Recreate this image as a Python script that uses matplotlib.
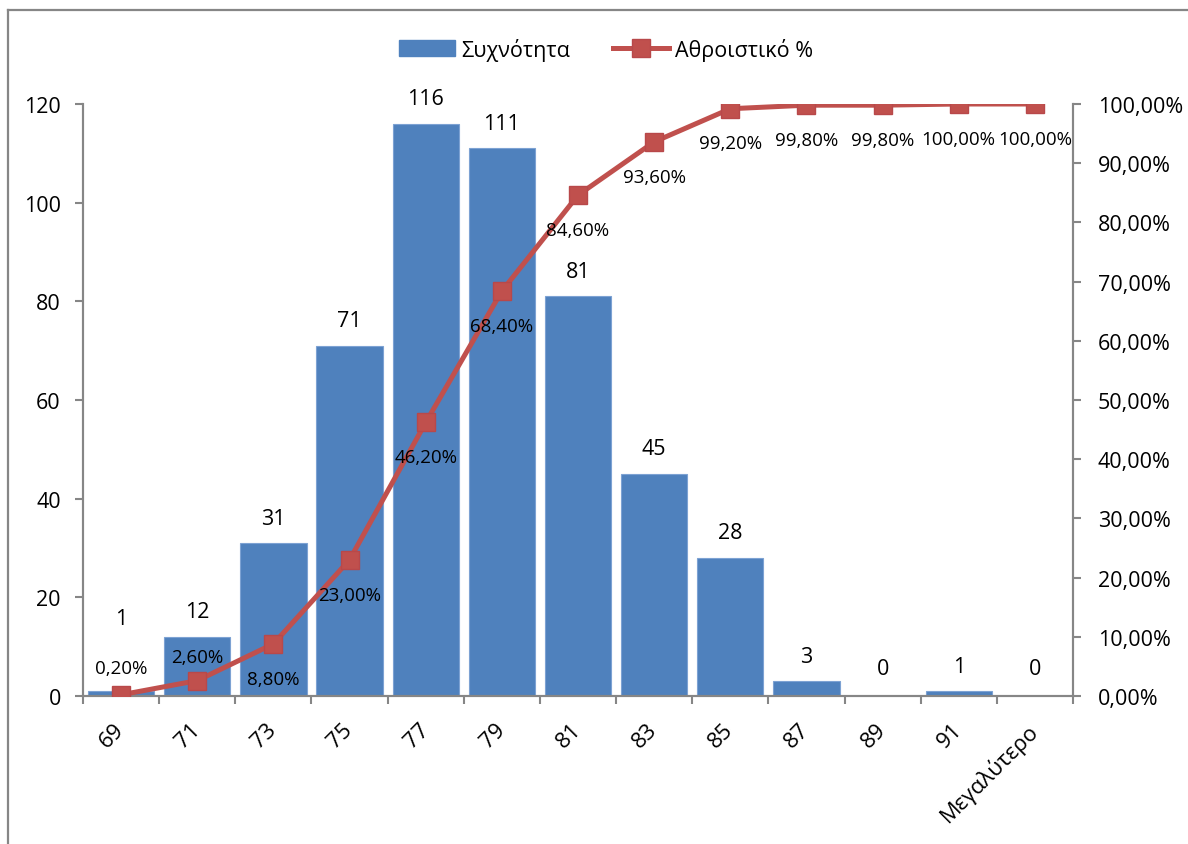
import matplotlib
matplotlib.use("Agg")
import matplotlib.pyplot as plt
from matplotlib.lines import Line2D
from matplotlib.patches import Patch
from matplotlib.ticker import FuncFormatter, FixedLocator

plt.rcParams['font.family'] = ['Open Sans', 'DejaVu Sans']

# Histogram data
categories = ["69", "71", "73", "75", "77", "79", "81", "83", "85", "87", "89", "91", "Μεγαλύτερο"]
frequency = [1, 12, 31, 71, 116, 111, 81, 45, 28, 3, 0, 1, 0]
cumulative_pct = [0.20, 2.60, 8.80, 23.00, 46.20, 68.40, 84.60, 93.60, 99.20, 99.80, 99.80, 100.00, 100.00]

BAR_BLUE = "#4F81BD"
LINE_RED = "#C0504D"
AXIS_GREY = "#868686"

W, H = 1188, 845
fig = plt.figure(figsize=(W / 100, H / 100), dpi=100)
ax = fig.add_axes([83 / W, 1 - 697 / H, (1073 - 83) / W, (697 - 105) / H])
ax2 = ax.twinx()

x = list(range(len(categories)))
ax.bar(x, frequency, width=0.87, color=BAR_BLUE, edgecolor="#7DA2D3", linewidth=0.8, zorder=2)
ax.set_xlim(-0.5, len(categories) - 0.5)
ax.set_ylim(0, 120)
ax.set_yticks(range(0, 121, 20))

# tick marks between categories, labels at category centres
ax.xaxis.set_major_locator(FixedLocator([i - 0.5 for i in range(len(categories) + 1)]))
ax.xaxis.set_minor_locator(FixedLocator(x))
ax.set_xticklabels([])
ax.set_xticklabels(categories, minor=True, rotation=45, ha="right", va="center",
                   rotation_mode="anchor", fontsize=16)
ax.tick_params(axis="x", which="major", length=6, width=1.5, color=AXIS_GREY, direction="out")
ax.tick_params(axis="x", which="minor", length=0, pad=22)
ax.tick_params(axis="y", length=6, width=1.5, color=AXIS_GREY, labelsize=15.5, pad=10)

for a in (ax, ax2):
    a.spines["top"].set_visible(False)
    for s in ("left", "right", "bottom"):
        a.spines[s].set_color(AXIS_GREY)
        a.spines[s].set_linewidth(1.5)

ax2.set_ylim(0, 100)
ax2.set_yticks(range(0, 101, 10))
ax2.yaxis.set_major_formatter(FuncFormatter(lambda v, p: f"{v:.2f}%".replace(".", ",")))
ax2.tick_params(axis="y", length=6, width=1.5, color=AXIS_GREY, labelsize=15.5, pad=12)

ax2.plot(x, cumulative_pct, color=LINE_RED, linewidth=3.6, marker="s", markersize=13,
         markerfacecolor=LINE_RED, markeredgecolor="#B8484A", zorder=3)

# value labels above bars (offset in points above the bar top)
bar_label_offset = [52, 18, 18, 18, 18, 18, 18, 18, 18, 18, 20, 18, 20]
for xi, v, off in zip(x, frequency, bar_label_offset):
    ax.annotate(str(v), (xi, v), xytext=(0, off), textcoords="offset points",
                ha="center", va="center", fontsize=15.5, zorder=4)

# cumulative percentage labels
pct_label_offset = [19, 17] + [-25] * 11
for xi, v, off in zip(x, cumulative_pct, pct_label_offset):
    ax2.annotate(f"{v:.2f}%".replace(".", ","), (xi, v), xytext=(0, off),
                 textcoords="offset points", ha="center", va="center", fontsize=13.5, zorder=4)

# legend
handles = [Patch(facecolor=BAR_BLUE, edgecolor=BAR_BLUE),
           Line2D([0], [0], color=LINE_RED, linewidth=3.6, marker="s", markersize=13,
                  markerfacecolor=LINE_RED, markeredgecolor="#B8484A")]
fig.legend(handles, ["Συχνότητα", "Αθροιστικό %"], loc="center", bbox_to_anchor=(606 / W, 1 - 50 / H),
           ncol=2, frameon=False, fontsize=15.5, handlelength=2.6, handletextpad=0.3,
           columnspacing=2.0, handleheight=0.8)

# chart frame
fig.add_artist(Line2D([8 / W, 8 / W], [0, 1 - 11 / H], color=AXIS_GREY, linewidth=1.6))
fig.add_artist(Line2D([8 / W, 1], [1 - 11 / H, 1 - 11 / H], color=AXIS_GREY, linewidth=1.6))

fig.savefig("out.png", dpi=100)
